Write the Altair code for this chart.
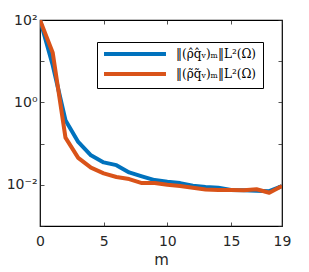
import altair as alt
import pandas as pd

m_vals = list(range(20))
blue_vals = [100, 8, 0.37, 0.11, 0.052, 0.035, 0.030, 0.020, 0.016, 0.013,
             0.0118, 0.011, 0.0095, 0.0089, 0.0085, 0.0075, 0.0074, 0.0072, 0.0070, 0.0093]
orange_vals = [100, 16, 0.14, 0.045, 0.026, 0.019, 0.0155, 0.0138, 0.011, 0.011,
               0.010, 0.0094, 0.0085, 0.0077, 0.0075, 0.0075, 0.0074, 0.0078, 0.0064, 0.0093]
series_names = ["‖(ρ̂q̂ᵥ)ₘ‖L²(Ω)", "‖(ρ̃q̃ᵥ)ₘ‖L²(Ω)"]
colors = ["#0072BD", "#D95319"]
x_ticks = [0, 5, 10, 15, 19]
y_ticks = [1e-3, 1e-2, 1e-1, 1e0, 1e1, 1e2]

rows = []
for name, vals in zip(series_names, [blue_vals, orange_vals]):
    for m, v in zip(m_vals, vals):
        rows.append({"m": m, "v": v, "s": name})
df = pd.DataFrame(rows)

xs = alt.Scale(domain=[0, 19], nice=False, zero=False)
ys = alt.Scale(type="log", domain=[1e-3, 1e2], nice=False)

label_expr = ("datum.value == 100 ? '10²' : datum.value == 1 ? '10⁰' : "
              "datum.value == 0.01 ? '10⁻²' : ''")

lines = alt.Chart(df).mark_line(strokeWidth=4, clip=True, strokeJoin="round").encode(
    x=alt.X("m:Q", scale=xs, title="m",
            axis=alt.Axis(values=x_ticks, grid=True, gridDash=[4, 1000], gridColor="#262626",
                          gridOpacity=1, gridWidth=0.8, ticks=False, labelPadding=8,
                          labelFlush=False, titlePadding=4)),
    y=alt.Y("v:Q", scale=ys, title=None,
            axis=alt.Axis(values=y_ticks, labelExpr=label_expr, grid=True, gridDash=[4, 1000],
                          gridColor="#262626", gridOpacity=1, gridWidth=0.8, ticks=False,
                          labelFlush=False, labelPadding=3, labelFontSize=14)),
    color=alt.Color("s:N", sort=series_names,
                    scale=alt.Scale(domain=series_names, range=colors),
                    legend=alt.Legend(title=None, orient="none", legendX=57, legendY=22,
                                      strokeColor="black", fillColor="white", padding=6,
                                      symbolType="M-8,0H8", symbolSize=60, symbolStrokeWidth=4,
                                      symbolOffset=26, labelOffset=35,
                                      labelFont="DejaVu Serif", labelFontSize=12,
                                      labelColor="black", rowPadding=4)),
)

mirror = alt.Chart(df).mark_line(opacity=0).encode(
    x=alt.X("m:Q", scale=xs,
            axis=alt.Axis(orient="top", values=x_ticks, labels=False, ticks=False, title=None,
                          grid=True, gridDash=[4, 1000], gridColor="#262626", gridOpacity=1,
                          gridWidth=0.8)),
    y=alt.Y("v:Q", scale=ys,
            axis=alt.Axis(orient="right", values=y_ticks, labels=False, ticks=False, title=None,
                          grid=True, gridDash=[4, 1000], gridColor="#262626", gridOpacity=1,
                          gridWidth=0.8)),
)

chart = alt.layer(lines, mirror).resolve_axis(x="independent", y="independent").properties(
    width=242, height=206,
    autosize=alt.AutoSizeParams(type="none"),
    padding={"left": 32, "top": 12, "right": 10, "bottom": 48},
).configure_view(stroke="black", strokeWidth=1.2).configure_axis(
    domain=False, labelFont="DejaVu Sans", labelFontSize=14, labelColor="#262626",
    titleFont="DejaVu Sans", titleFontSize=15, titleFontWeight="normal", titleColor="#262626",
)

chart.save("out.html", embed_options={"renderer": "svg", "actions": False})
